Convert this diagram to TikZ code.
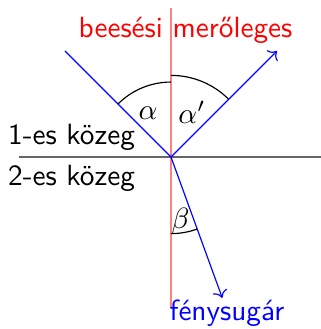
\documentclass[tikz,border=0pt]{standalone}
\usepackage{amsmath,amssymb}
\usepackage{tikz}
\usetikzlibrary{positioning,arrows.meta}
\tikzset{
  normal line/.style={red!50,thin},
  surface line/.style={black!60,thin},
  ray/.style={blue,thin},
  angle arc/.style={black,thin},
  medium/.style={font=\sffamily,inner sep=0pt},
}

\begin{document}
\begin{tikzpicture}
  \useasboundingbox (-2.053,-2.065) rectangle (1.789,1.885);
  \coordinate (O)      at (0,0);
  \coordinate (ntop)   at (0,1.79);
  \coordinate (nbot)   at (0,-1.81);
  \coordinate (sleft)  at (-1.83,0);
  \coordinate (sright) at (1.85,0);
  \coordinate (in)     at (135:1.8);
  \coordinate (refl)   at (45:1.8);
  \coordinate (refr)   at (-70:1.8);
  \draw[normal line]  (ntop) -- (nbot);
  \draw[surface line] (sleft) -- (sright);
  \draw[ray] (in) -- (O);
  \draw[ray,->] (O) -- (refl);
  \draw[ray,->] (O) -- (refr);
  % angles
  \draw[angle arc] (O) ++(90:0.9) arc[start angle=90,end angle=135,radius=0.9];
  \draw[angle arc] (O) ++(90:0.98) arc[start angle=90,end angle=45,radius=0.98];
  \draw[angle arc] (O) ++(-90:0.92) arc[start angle=-90,end angle=-70,radius=0.92];
  \node (alpha)  at (-0.276,0.528) {$\alpha$};
  \node (alpha2) at (0.252,0.54)   {$\alpha'$};
  \node (beta)   at (0.114,-0.765) {$\beta$};
  % labels
  \node[medium,red] (normal) at (0.174,1.524) {beesési merőleges};
  \node[medium] (upper) at (-1.194,0.23)  {1-es közeg};
  \node[medium] (lower) at (-1.194,-0.262) {2-es közeg};
  \node[medium,blue] (ray) at (0.672,-1.87) {fénysugár};
\end{tikzpicture}
\end{document}
